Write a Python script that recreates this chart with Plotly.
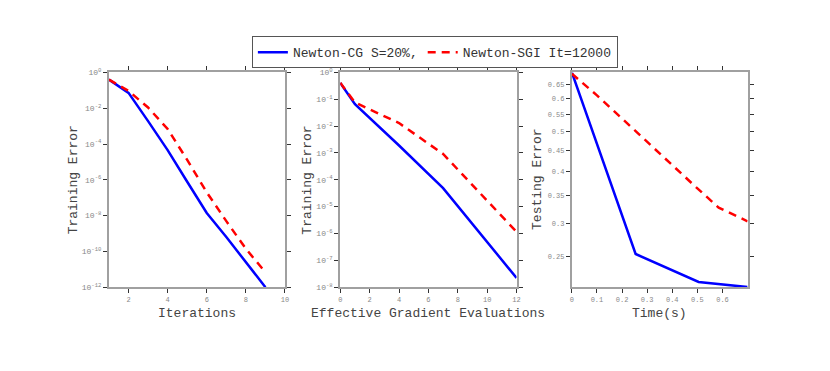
import plotly.graph_objects as go

# Panel 1: Iterations
it_x = [1, 2, 3, 4, 5, 6, 7, 8, 9]
it_cg = [0.4, 0.072, 1.9e-3, 4.6e-5, 7.8e-7, 1.4e-8, 6.3e-10, 2.7e-11, 1e-12]
it_sgi = [0.4, 0.093, 0.011, 6.9e-4, 1.3e-5, 2e-7, 4.9e-9, 1.4e-10, 6.8e-12]

# Panel 2: Effective gradient evaluations
eg_x = [0, 1, 4, 7, 12]
eg_cg = [0.41, 0.066, 1.9e-3, 4.9e-5, 2.2e-8]
eg_sgi = [0.41, 0.076, 0.013, 9.2e-4, 1.15e-6]

# Panel 3: Time
t_cg_x = [0, 0.254, 0.505, 0.7]
t_cg = [0.695, 0.2535, 0.217, 0.211]
t_sgi_x = [0, 0.1, 0.2, 0.3, 0.4, 0.5, 0.585, 0.7]
t_sgi = [0.69, 0.612, 0.538, 0.472, 0.415, 0.365, 0.328, 0.304]

name_cg = "Newton-CG S=20%,"
name_sgi = "Newton-SGI It=12000"
it_exps = [-12, -10, -8, -6, -4, -2, 0]
eg_exps = [-8, -7, -6, -5, -4, -3, -2, -1, 0]
test_ticks = [0.25, 0.3, 0.35, 0.4, 0.45, 0.5, 0.55, 0.6, 0.65]
test_labels = ["0.25", "0.3", "0.35", "0.4", "0.45", "0.5", "0.55", "0.6", "0.65"]
time_ticks = [0, 0.1, 0.2, 0.3, 0.4, 0.5, 0.6]
time_labels = ["0", "0.1", "0.2", "0.3", "0.4", "0.5", "0.6"]

FONT = "Liberation Mono, Courier New, monospace"
BLUE = "#0000ff"
RED = "#ff0000"

def pw(e):
    return "10<sup>%d</sup>" % e

fig = go.Figure()

def add(x, y, xa, ya, color, dash, name, show):
    fig.add_trace(go.Scatter(x=x, y=y, xaxis=xa, yaxis=ya, mode="lines",
                             line=dict(color=color, width=2.5, dash=dash),
                             name=name, showlegend=show))

add(it_x, it_cg, "x", "y", BLUE, "solid", name_cg, True)
add(it_x, it_sgi, "x", "y", RED, "8px,6px", name_sgi, True)
add(eg_x, eg_cg, "x2", "y2", BLUE, "solid", name_cg, False)
add(eg_x, eg_sgi, "x2", "y2", RED, "8px,6px", name_sgi, False)
add(t_cg_x, t_cg, "x3", "y3", BLUE, "solid", name_cg, False)
add(t_sgi_x, t_sgi, "x3", "y3", RED, "8px,6px", name_sgi, False)

W, H = 822, 363
ybot, ytop = 1 - 281.7 / H, 1 - 60.3 / H
doms = [(99.7 / W, 277 / W), (332.7 / W, 510.3 / W), (566 / W, 743 / W)]

common = dict(showline=True, linecolor="#a0a0a0", linewidth=2, mirror="ticks",
              ticks="outside", ticklen=4, tickwidth=1, tickcolor="#333333",
              showgrid=False, zeroline=False)
small = dict(tickfont=dict(family=FONT, size=7, color="#888888"))
logf = dict(tickfont=dict(family=FONT, size=8, color="#888888"))

fig.update_layout(
    width=W, height=H, margin=dict(l=0, r=0, t=0, b=0),
    plot_bgcolor="white", paper_bgcolor="white",
    font=dict(family=FONT, color="#444444"),
    xaxis=dict(domain=doms[0], anchor="y", range=[1, 10], dtick=2, tick0=0, **common, **small),
    yaxis=dict(domain=[ybot, ytop], anchor="x", type="log", range=[-12, 0],
               tickvals=[10.0 ** e for e in it_exps], ticktext=[pw(e) for e in it_exps],
               **common, **logf),
    xaxis2=dict(domain=doms[1], anchor="y2", range=[0, 12], dtick=2, tick0=0, **common, **small),
    yaxis2=dict(domain=[ybot, ytop], anchor="x2", type="log", range=[-8, 0],
                tickvals=[10.0 ** e for e in eg_exps], ticktext=[pw(e) for e in eg_exps],
                **common, **logf),
    xaxis3=dict(domain=doms[2], anchor="y3", range=[0, 0.7],
                tickvals=time_ticks, ticktext=time_labels, **common, **small),
    yaxis3=dict(domain=[ybot, ytop], anchor="x3", type="log",
                range=[-0.676, -0.158], tickvals=test_ticks, ticktext=test_labels,
                **common, **small),
    legend=dict(orientation="h", x=428 / W, xanchor="center", y=1 - 23 / H, yanchor="top",
                bordercolor="#555555", borderwidth=1, bgcolor="white",
                font=dict(family=FONT, size=13, color="#333333"),
                itemwidth=30, tracegroupgap=0),
)

titles = [
    ("Iterations", (doms[0][0] + doms[0][1]) / 2, 1 - 309 / H, 0),
    ("Effective Gradient Evaluations", (doms[1][0] + doms[1][1]) / 2, 1 - 309 / H, 0),
    ("Time(s)", (doms[2][0] + doms[2][1]) / 2, 1 - 309 / H, 0),
    ("Training Error", 64 / W, (ybot + ytop) / 2, -90),
    ("Training Error", 300 / W, (ybot + ytop) / 2, -90),
    ("Testing Error", 532 / W, (ybot + ytop) / 2, -90),
]
for text, x, y, ang in titles:
    fig.add_annotation(text=text, x=x, y=y, xref="paper", yref="paper",
                       xanchor="center", yanchor="middle",
                       showarrow=False, textangle=ang,
                       font=dict(family=FONT, size=13, color="#444444"))

fig.write_html("out.html")
